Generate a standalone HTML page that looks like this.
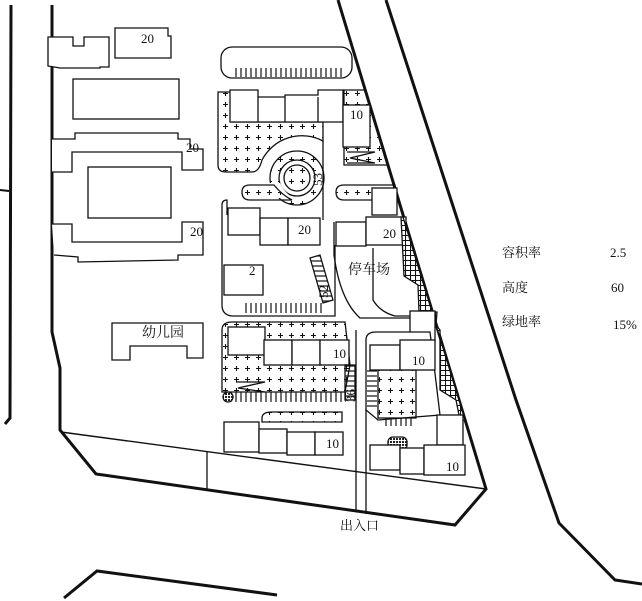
<!DOCTYPE html>
<html><head><meta charset="utf-8"><style>
html,body{margin:0;padding:0;background:#fff;}
svg{display:block;}
text{font-family:"Liberation Serif","Noto Serif CJK SC",serif;fill:#111;}
</style></head><body>
<svg width="642" height="601" viewBox="0 0 642 601" xmlns="http://www.w3.org/2000/svg">
<defs>
<pattern id="plus" width="11" height="11" patternUnits="userSpaceOnUse">
<path d="M5.5 3v5M3 5.5h5" stroke="#111" stroke-width="1.1"/>
</pattern>
<pattern id="grid" width="5" height="5" patternUnits="userSpaceOnUse">
<rect width="5" height="5" fill="#fff"/>
<path d="M0 0.5h5M0.5 0v5" stroke="#111" stroke-width="1.1"/>
</pattern>
<pattern id="vhatch" width="5" height="5" patternUnits="userSpaceOnUse">
<path d="M1 0v5" stroke="#111" stroke-width="1.2"/>
</pattern>
<pattern id="hhatch" width="5" height="5" patternUnits="userSpaceOnUse">
<path d="M0 1h5" stroke="#111" stroke-width="1.2"/>
</pattern>
<pattern id="dots" width="3" height="3" patternUnits="userSpaceOnUse">
<rect width="3" height="3" fill="#fff"/><rect width="2" height="2" fill="#222"/>
</pattern>
<clipPath id="site"><path d="M0 0 L338 0 L486 489 L0 489 Z"/></clipPath>
</defs>
<g fill="none" stroke="#111">
<path d="M11 5 L10 418 L5 424" stroke-width="3"/>
<path d="M0 190 L9 191" stroke-width="2"/>
<path d="M52 5 L52 332 L60 368 L60 430 L96 474 L455 525 L486 489 L338 0" stroke-width="3"/>
<path d="M386 0 L516 400 L559 523 L615 580 L642 584" stroke-width="3"/>
<path d="M64 598 L97 571 L277 595" stroke-width="3"/>
<path d="M61 432 L486 489" stroke-width="1.4"/>
<path d="M207 452 L207 489" stroke-width="1.3"/>
<path d="M356 400 L356 512 M366 408 L366 514" stroke-width="1.3"/>
</g>
<g fill="#fff" stroke="#111" stroke-width="1.3">
<path d="M48 37 L73 37 L73 46 L84 46 L84 37 L109 37 L109 67 L100 67 L100 68 L60 68 L48 66 Z"/>
<path d="M115 28 L168 28 L168 36 L171 36 L171 58 L115 58 Z"/>
<rect x="73" y="79" width="106" height="40"/>
<path d="M52 139 L75 139 L75 133 L178 133 L178 139 L190 139 L190 149 L203 149 L203 170 L182 170 L182 152 L72 152 L72 172 L52 172"/>
<rect x="88" y="167" width="83" height="51"/>
<path d="M52 224 L72 224 L72 242 L182 242 L182 222 L203 222 L203 255 L178 255 L178 260 L78 262 L78 257 L54 255"/>
<path d="M112 323 L203 323 L203 358 L187 358 L187 346 L130 346 L130 360 L112 360 Z"/>
<rect x="221" y="47" width="131" height="31" rx="11"/>
<rect x="233" y="68" width="112" height="9" fill="url(#vhatch)" stroke="none"/>
<path d="M218 92 L218 165 Q218 172 226 172 L252 172 Q259 172 262 160 A45 45 0 0 1 323 141 L323 122 L232 122 L232 92 Z" fill="url(#plus)"/>
<path d="M230 90 L258 90 L258 97 L285 97 L285 95 L318 95 L318 90 L343 90 L343 122 L230 122 Z"/>
<path d="M258 97 L258 122 M285 97 L285 122 M318 97 L318 122"/>
<!-- roundabout -->
<circle cx="297" cy="178" r="27" fill="url(#plus)"/>
<circle cx="297" cy="178" r="18" fill="#fff"/>
<circle cx="297" cy="178" r="13" fill="url(#plus)"/>
<path d="M268 183 L280 183 Q283 190 290 196 L270 200 Z" fill="#fff" stroke="none"/>
<path d="M250 185 L274 185 Q282 195 292 200 L250 200 Q242 200 242 192 Q242 185 250 185 Z" fill="url(#plus)"/>
<path d="M323 141 L323 220" fill="none"/>
<g clip-path="url(#site)">
<path d="M344 90 L368 90 Q376 92 380 110 L395 165 L344 165 Z" fill="url(#plus)"/>
</g>
<rect x="343" y="105" width="27" height="42"/>
<path d="M347 152 L375 152 L350 158 L375 163 L347 163" fill="none"/>
<path d="M344 185 L395 185 L395 200 L344 200 Q336 200 336 192 Q336 185 344 185 Z" fill="url(#plus)"/>
<rect x="372" y="188" width="25" height="27"/>
<path d="M222 205 Q222 200 227 200 L227 215" fill="none"/>
<rect x="228" y="208" width="32" height="27"/>
<rect x="260" y="218" width="28" height="27"/>
<rect x="288" y="218" width="32" height="27"/>
<rect x="224" y="265" width="39" height="30"/>
<rect x="242" y="303" width="83" height="10" fill="url(#vhatch)" stroke="none"/>
<path d="M222 205 L222 305 Q222 315 232 316 L335 316 L335 245" fill="none"/>
<path d="M310 258 L320 255 L333 300 L323 303 Z" fill="url(#hhatch)"/>
<path d="M334 222 L334 255 Q340 300 360 318 L410 318" fill="none"/>
<path d="M373 248 L373 300 Q380 312 395 316 L410 316" fill="none"/>
<rect x="336" y="222" width="30" height="24"/>
<rect x="366" y="217" width="40" height="28"/>
<path d="M401 217 L404 276 L418 285 L419 312 L437 312 L436 325 L440 330 L440 390 L456 400 L460 420 L465 420 L403 217 Z" fill="url(#grid)"/>
<rect x="410" y="311" width="25" height="30"/>
<path d="M222 330 Q222 322 232 322 L345 322 L350 365 L345 392 L222 392 Z" fill="url(#plus)"/>
<rect x="228" y="327" width="37" height="28"/>
<rect x="264" y="340" width="28" height="25"/>
<rect x="292" y="340" width="28" height="25"/>
<rect x="320" y="340" width="29" height="25"/>
<path d="M236 382 L265 382 L238 388 L265 392" fill="none"/>
<rect x="222" y="392" width="124" height="10" fill="url(#vhatch)" stroke="none"/>
<circle cx="228" cy="397" r="5" fill="url(#dots)"/>
<rect x="345" y="365" width="10" height="35" fill="url(#hhatch)"/>
<path d="M356 330 L356 400" fill="none"/>
<path d="M262 418 Q262 412 272 412 L342 412 L342 422 L262 422 Z" fill="url(#plus)"/>
<rect x="224" y="422" width="35" height="30"/>
<rect x="259" y="429" width="28" height="24"/>
<rect x="287" y="432" width="28" height="23"/>
<rect x="315" y="432" width="28" height="23"/>
<path d="M366 340 Q366 332 376 332 L430 332 L440 415 L378 420 L366 410 Z"/>
<rect x="378" y="370" width="38" height="48" fill="url(#plus)"/>
<rect x="367" y="370" width="10" height="40" fill="url(#hhatch)" stroke="none"/>
<rect x="383" y="418" width="30" height="8" fill="url(#vhatch)" stroke="none"/>
<rect x="370" y="345" width="30" height="25"/>
<rect x="400" y="340" width="35" height="30"/>
<rect x="437" y="415" width="26" height="30"/>
<rect x="388" y="437" width="19" height="13" rx="5" fill="url(#dots)"/>
<rect x="370" y="445" width="30" height="25"/>
<rect x="400" y="448" width="24" height="26"/>
<rect x="424" y="445" width="41" height="30"/>
</g>
<g font-size="13">
<text x="141" y="43">20</text>
<text x="186" y="152">20</text>
<text x="190" y="236">20</text>
<text x="142" y="337" font-size="14">幼儿园</text>
<text x="350" y="119">10</text>
<text x="298" y="234">20</text>
<text x="383" y="238">20</text>
<text x="249" y="275">2</text>
<text x="348" y="274" font-size="14">停车场</text>
<text x="333" y="358">10</text>
<text x="412" y="365">10</text>
<text x="326" y="448">10</text>
<text x="446" y="471">10</text>
<text x="322" y="186" transform="rotate(-90 322 186)">53</text>
<text x="328" y="298" transform="rotate(-90 328 298)">52</text>
<text x="355" y="402" transform="rotate(-90 355 402)">36</text>
<text x="340" y="530">出入口</text>
<text x="502" y="257">容积率</text><text x="610" y="257">2.5</text>
<text x="502" y="292">高度</text><text x="611" y="292">60</text>
<text x="502" y="326">绿地率</text><text x="613" y="329">15%</text>
</g>
</svg>
</body></html>
